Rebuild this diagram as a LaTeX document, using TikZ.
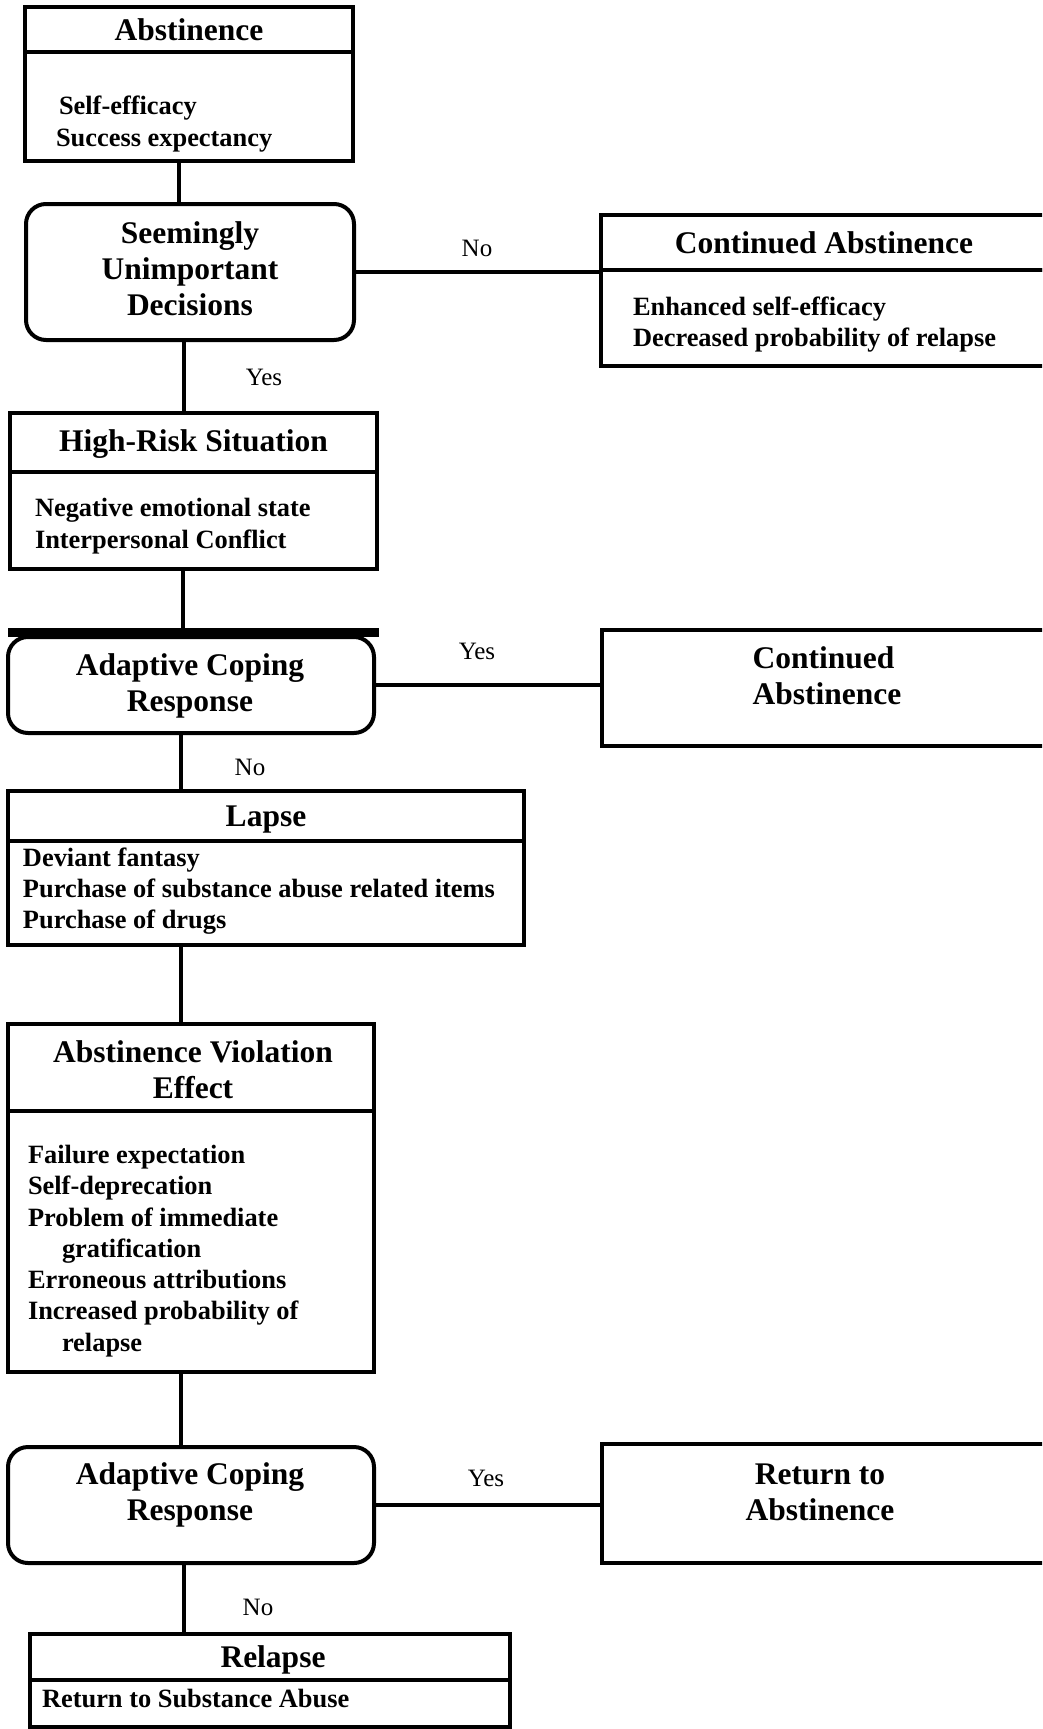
\documentclass[tikz,border=0pt]{standalone}
\usepackage{fontspec}
\setmainfont{Liberation Serif}
\newcommand{\boxtitlefont}{\bfseries\fontsize{31.5}{36}\selectfont}
\newcommand{\boxbodyfont}{\bfseries\fontsize{26.4}{31.3}\selectfont}

\begin{document}
\begin{tikzpicture}
  [x=1pt,y=-1pt,line width=4pt,
   every node/.style={inner sep=0pt},
   stage/.style={draw,rectangle,font=\boxtitlefont,align=center},
   choice/.style={stage,rounded corners=20pt},
   items/.style={font=\boxbodyfont,align=left,anchor=west},
   answer/.style={font=\fontsize{25}{30}\selectfont}]
  \clip (0,0) rectangle (1042,1729);

  % abstinence
  \node[stage,minimum width=328pt,minimum height=45pt] (abstHead) at (189,29.5) {Abstinence};
  \node[stage,minimum width=328pt,minimum height=109pt] (abstBody) at (189,106.5) {};
  \node[items] (abstText) at (54,124) {\hspace*{3pt}Self-efficacy\\Success expectancy};

  \node[choice,minimum width=328pt,minimum height=136pt] (sud) at (190,272) {};
  \node[font=\boxtitlefont,align=center] (sudText) at (190,269) {Seemingly\\Unimportant\\Decisions};

  \node[stage,minimum width=446pt,minimum height=55pt] (caHead) at (824,242.5) {Continued Abstinence};
  \node[stage,minimum width=446pt,minimum height=96pt] (caBody) at (824,318) {};
  \node[items] (caText) at (631,324.5) {Enhanced self-efficacy\\Decreased probability of relapse};

  % high-risk situation
  \node[stage,minimum width=367pt,minimum height=59pt] (hrsHead) at (193.5,442.5) {};
  \node[font=\boxtitlefont] (hrsTitle) at (193.5,444) {High-Risk Situation};
  \node[stage,minimum width=367pt,minimum height=97pt] (hrsBody) at (193.5,520.5) {};
  \node[items] (hrsText) at (33,526) {Negative emotional state\\Interpersonal Conflict};

  \coordinate (bar) at (183,632);
  \node[choice,minimum width=366pt,minimum height=96pt] (acr1) at (191,685) {};
  \node[font=\boxtitlefont,align=center] (acr1Text) at (190,686) {Adaptive Coping\\Response};
  \node[stage,minimum width=445pt,minimum height=116pt] (ca2) at (824.5,688) {};
  \node[font=\boxtitlefont,align=left] (ca2Text) at (827,676) {Continued\\Abstinence};

  % lapse
  \node[stage,minimum width=516pt,minimum height=50pt] (lapseHead) at (266,816) {};
  \node[font=\boxtitlefont] (lapseTitle) at (266,820) {Lapse};
  \node[stage,minimum width=516pt,minimum height=104pt] (lapseBody) at (266,893) {};
  \node[items] (lapseText) at (21,891) {Deviant fantasy\\Purchase of substance abuse related items\\Purchase of drugs};

  \node[stage,minimum width=366pt,minimum height=87pt] (aveHead) at (191,1067.5) {};
  \node[font=\boxtitlefont,align=center] (aveTitle) at (193,1070) {Abstinence Violation\\Effect};
  \node[stage,minimum width=366pt,minimum height=261pt] (aveBody) at (191,1241.5) {};
  \node[items] (aveText) at (26,1251) {Failure expectation\\Self-deprecation\\Problem of immediate\\\hspace*{34pt}gratification\\Erroneous attributions\\Increased probability of\\\hspace*{34pt}relapse};

  \node[choice,minimum width=366pt,minimum height=116pt] (acr2) at (191,1505) {};
  \node[font=\boxtitlefont,align=center] (acr2Text) at (190,1495) {Adaptive Coping\\Response};
  \node[stage,minimum width=445pt,minimum height=119pt] (ra) at (824.5,1503.5) {};
  \node[font=\boxtitlefont,align=center] (raText) at (820,1492) {Return to\\Abstinence};

  % relapse
  \node[stage,minimum width=480pt,minimum height=46pt] (relHead) at (270,1657) {};
  \node[font=\boxtitlefont] (relTitle) at (273,1660) {Relapse};
  \node[stage,minimum width=480pt,minimum height=47pt] (relBody) at (270,1703.5) {};
  \node[items] (relText) at (40,1698) {Return to Substance Abuse};

  \node[answer] (no1) at (477,248) {No};
  \node[answer] (yes1) at (264,377) {Yes};
  \node[answer] (yes2) at (477,651) {Yes};
  \node[answer] (no2) at (250,767) {No};
  \node[answer] (yes3) at (486,1478) {Yes};
  \node[answer] (no3) at (258,1607) {No};

  \draw ([xshift=-10pt]abstBody.south) -- ([xshift=-11pt]sud.north);
  \draw ([xshift=-6pt]sud.south) -- ([xshift=-9.5pt]hrsHead.north);
  \draw ([xshift=-10.5pt]hrsBody.south) -- (bar);
  \draw[line width=9pt] (bar -| hrsBody.west) -- (bar -| hrsBody.east);
  \draw ([xshift=-10pt]acr1.south) -- ([xshift=-85pt]lapseHead.north);
  \draw ([xshift=-85pt]lapseBody.south) -- ([xshift=-10pt]aveHead.north);
  \draw ([xshift=-10pt]aveBody.south) -- ([xshift=-10pt]acr2.north);
  \draw ([xshift=-7pt]acr2.south) -- ([xshift=-86pt]relHead.north);

  \draw (sud.east) -- (sud.east -| caBody.west);
  \draw (acr1.east) -- (acr1.east -| ca2.west);
  \draw (acr2.east) -- (acr2.east -| ra.west);
\end{tikzpicture}
\end{document}
